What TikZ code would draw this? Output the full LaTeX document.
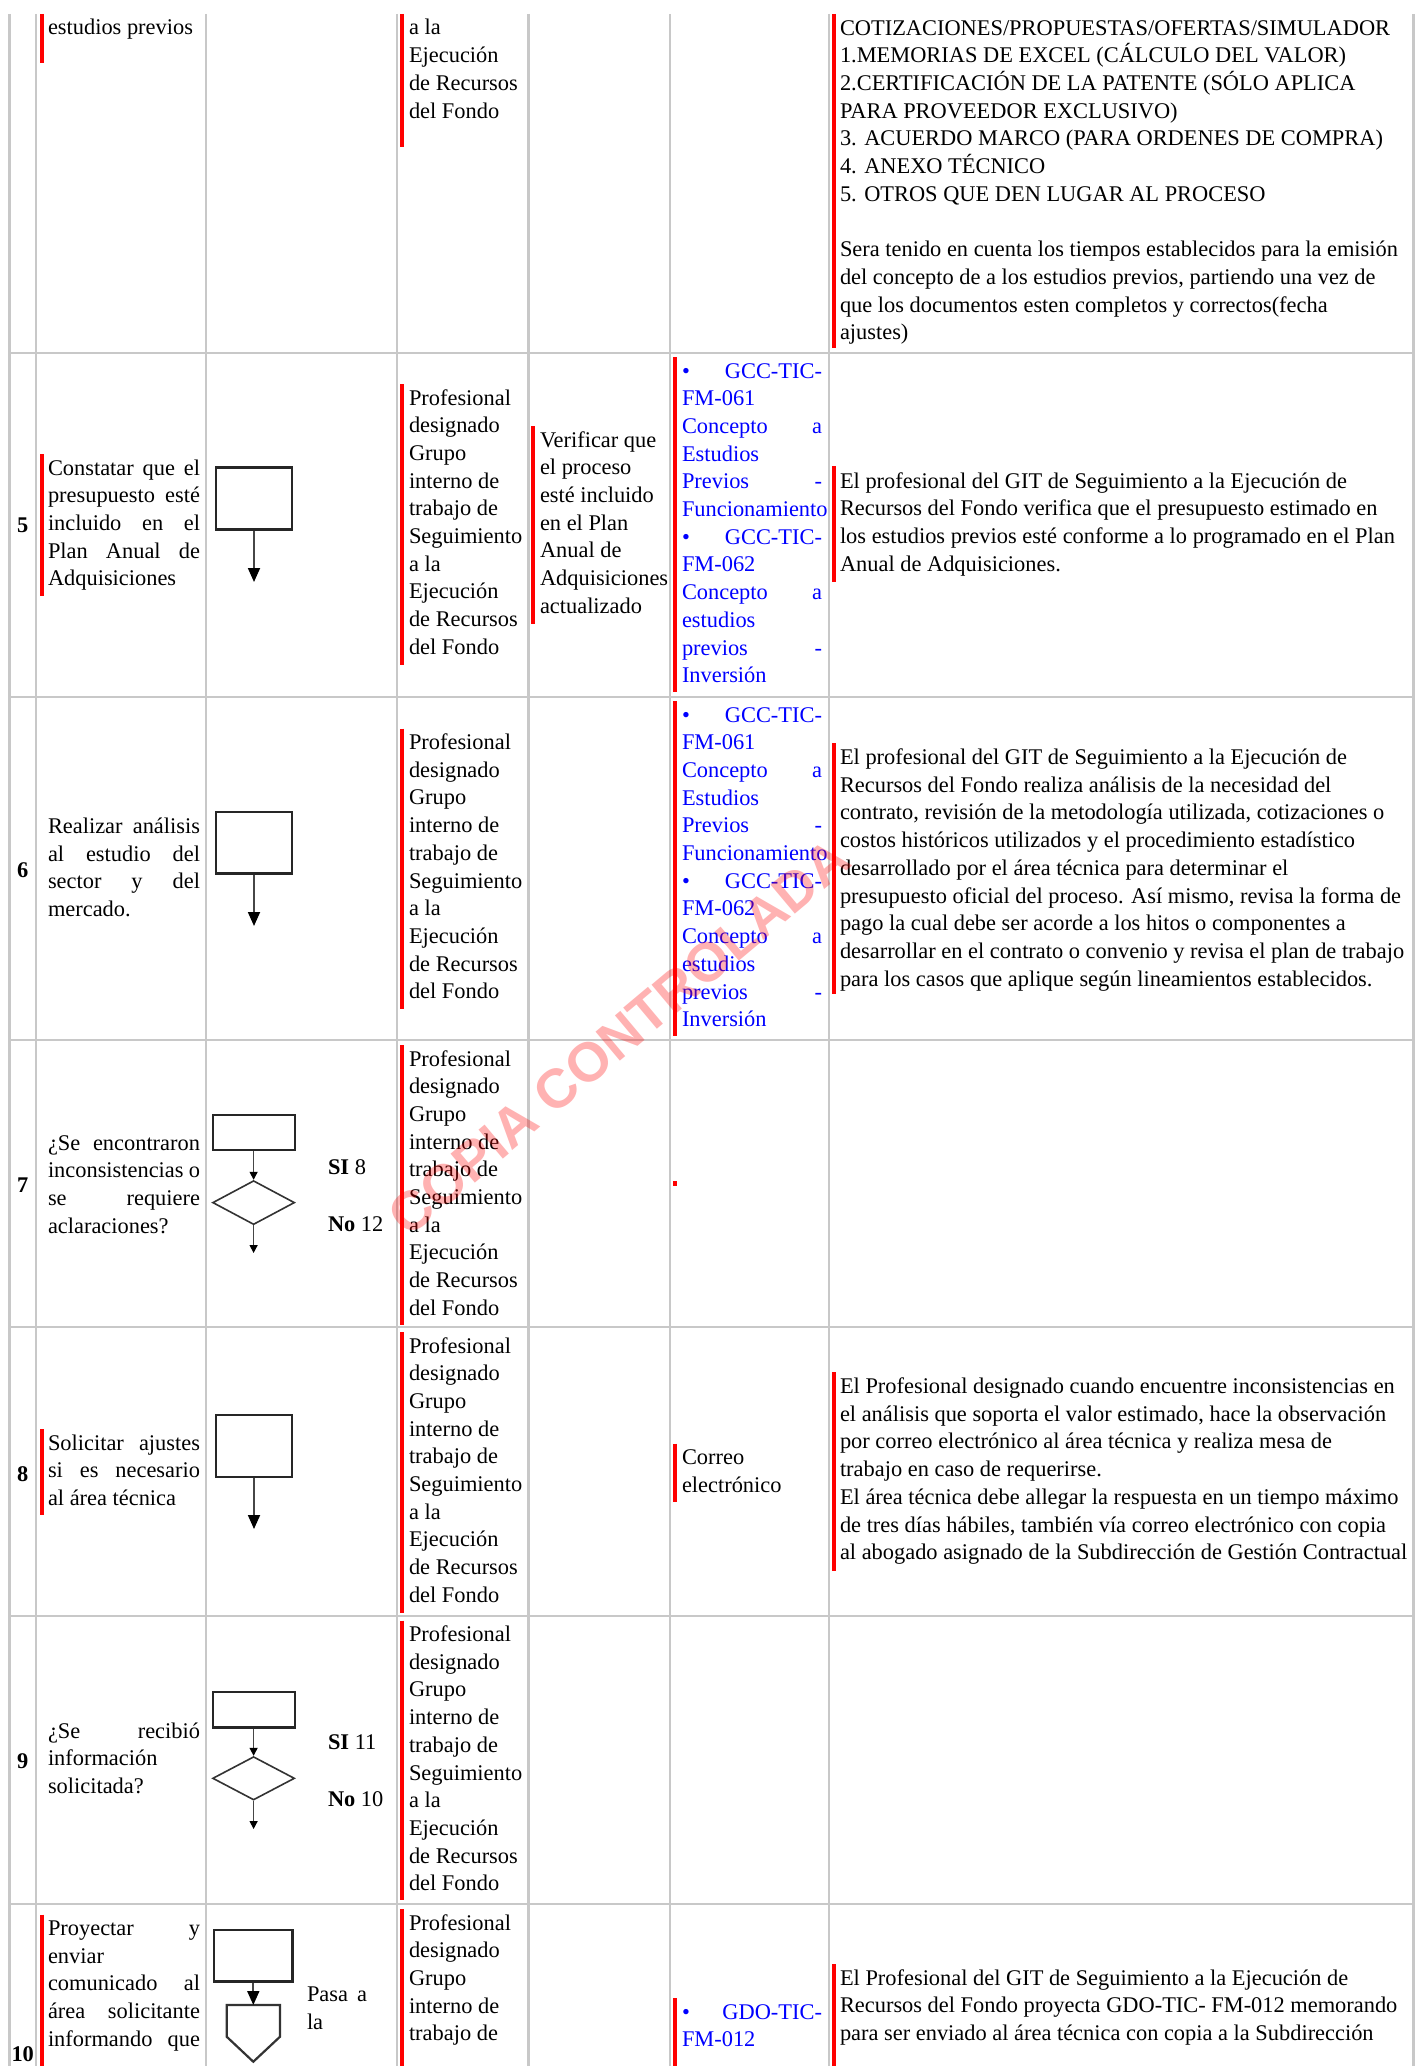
\documentclass[tikz,border=0pt]{standalone}
\usepackage{fontspec}
\setmainfont{Liberation Serif}
\newfontfamily\wmfont{Liberation Sans}
\usetikzlibrary{arrows.meta,shapes.geometric}
\definecolor{gridgray}{RGB}{200,200,200}
\definecolor{txtblue}{RGB}{0,0,255}
\definecolor{barred}{RGB}{255,0,0}
\definecolor{arrgray}{RGB}{70,70,70}
\newcommand{\J}[2]{\makebox[#1][s]{#2}}
\newcommand{\blk}[5]{\node[#1] (#2) at (#3,{#4-19.39}) {#5};}
\newcommand{\rbar}[3]{\draw[redbar] (#1,#2) -- (#1,#3);}
\newcommand{\profd}{\strut Profesional\\\strut designado\\\strut Grupo\\\strut interno de\\\strut trabajo de\\\strut Seguimiento\\\strut a la\\\strut Ejecución\\\strut de Recursos\\\strut del Fondo}
\newcommand{\gccrefs}{\strut\J{70pt}{• GCC-TIC-}\\\strut FM-061\\\strut\J{70pt}{Concepto a}\\\strut Estudios\\\strut\J{70pt}{Previos -}\\\strut Funcionamiento\\\strut\J{70pt}{• GCC-TIC-}\\\strut FM-062\\\strut\J{70pt}{Concepto a}\\\strut estudios\\\strut\J{70pt}{previos -}\\\strut Inversión}
\begin{document}
\begin{tikzpicture}[x=0.5pt,y=-0.5pt,
 gridline/.style={draw=gridgray,line width=1.25pt},
 redbar/.style={draw=barred,line width=2pt},
 tx/.style={inner sep=0pt,outer sep=0pt,anchor=north west,align=left,font=\fontsize{11.2}{13.85}\selectfont},
 btx/.style={tx,text=txtblue},
 stepnum/.style={inner sep=0pt,anchor=base,font=\fontsize{11.2}{13.85}\selectfont\bfseries},
 procbox/.style={draw=black!85,line width=1.4pt,inner sep=0pt,minimum width=38pt,minimum height=31pt},
 decbox/.style={draw=black!85,line width=1.1pt,inner sep=0pt,minimum width=41pt,minimum height=17.7pt},
 decis/.style={diamond,draw=black!80,line width=0.8pt,inner sep=0pt,minimum width=41pt,minimum height=22pt},
 bigarr/.style={draw=arrgray,line width=0.9pt,-{Triangle[length=7pt,width=6pt,color=black]}},
 smallarr/.style={draw=arrgray,line width=0.7pt,-{Triangle[length=4pt,width=4pt,color=black]}},
 pentshape/.style={draw=black!80,line width=1.1pt,line join=miter}
]
\useasboundingbox (0,0) rectangle (1424,2066);
\clip (0,0) rectangle (1424,2066);
\fill[white] (0,0) rectangle (1424,2066);

% grid
\foreach \gx in {9.5,36,206,397,528.5,670,829,1413.5}{\draw[gridline] (\gx,14) -- (\gx,2070);}
\foreach \gy in {353,697,1040,1327,1616,1904}{\draw[gridline] (9.5,\gy) -- (1413.5,\gy);}

% ---------- top (continued) row ----------
\blk{tx}{t0B}{48}{35}{\strut estudios previos}
\blk{tx}{t0D}{409}{35}{\strut a la\\\strut Ejecución\\\strut de Recursos\\\strut del Fondo}
\blk{tx}{t0G}{840}{35}{\strut COTIZACIONES/PROPUESTAS/OFERTAS/SIMULADOR\\\strut 1.MEMORIAS DE EXCEL (CÁLCULO DEL VALOR)\\\strut 2.CERTIFICACIÓN DE LA PATENTE (SÓLO APLICA\\\strut PARA PROVEEDOR EXCLUSIVO)\\\strut 3. ACUERDO MARCO (PARA ORDENES DE COMPRA)\\\strut 4. ANEXO TÉCNICO\\\strut 5. OTROS QUE DEN LUGAR AL PROCESO\\\strut\\\strut Sera tenido en cuenta los tiempos establecidos para la emisión\\\strut del concepto de a los estudios previos, partiendo una vez de\\\strut que los documentos esten completos y correctos(fecha\\\strut ajustes)}
\rbar{42}{14}{63}
\rbar{402}{14}{147}
\rbar{834}{14}{348}

% ---------- row 5 ----------
\node[stepnum] (n5) at (22.75,532) {5};
\blk{tx}{t5B}{48}{475}{\strut\J{76pt}{Constatar que el}\\\strut\J{76pt}{presupuesto esté}\\\strut\J{76pt}{incluido en el}\\\strut\J{76pt}{Plan Anual de}\\\strut Adquisiciones}
\node[procbox] (r5) at (254,498.5) {};
\coordinate (e5) at (254,582);
\draw[bigarr] (r5.south) -- (e5);
\blk{tx}{t5D}{409}{405}{\profd}
\blk{tx}{t5E}{540}{447}{\strut Verificar que\\\strut el proceso\\\strut esté incluido\\\strut en el Plan\\\strut Anual de\\\strut Adquisiciones\\\strut actualizado}
\blk{btx}{t5F}{682}{378}{\gccrefs}
\blk{tx}{t5G}{840}{488}{\strut El profesional del GIT de Seguimiento a la Ejecución de\\\strut Recursos del Fondo verifica que el presupuesto estimado en\\\strut los estudios previos esté conforme a lo programado en el Plan\\\strut Anual de Adquisiciones.}
\rbar{42}{454}{596}
\rbar{402}{384}{665}
\rbar{533}{426}{624}
\rbar{675}{357}{692}
\rbar{834}{466}{582}

% ---------- row 6 ----------
\node[stepnum] (n6) at (22.75,877) {6};
\blk{tx}{t6B}{48}{833.5}{\strut\J{76pt}{Realizar análisis}\\\strut\J{76pt}{al estudio del}\\\strut\J{76pt}{sector y del}\\\strut mercado.}
\node[procbox,minimum height=30.8pt] (r6) at (254,842.8) {};
\coordinate (e6) at (254,926);
\draw[bigarr] (r6.south) -- (e6);
\blk{tx}{t6D}{409}{749.5}{\profd}
\blk{btx}{t6F}{682}{722}{\gccrefs}
\blk{tx}{t6G}{840}{764.5}{\strut El profesional del GIT de Seguimiento a la Ejecución de\\\strut Recursos del Fondo realiza análisis de la necesidad del\\\strut contrato, revisión de la metodología utilizada, cotizaciones o\\\strut costos históricos utilizados y el procedimiento estadístico\\\strut desarrollado por el área técnica para determinar el\\\strut presupuesto oficial del proceso. Así mismo, revisa la forma de\\\strut pago la cual debe ser acorde a los hitos o componentes a\\\strut desarrollar en el contrato o convenio y revisa el plan de trabajo\\\strut para los casos que aplique según lineamientos establecidos.}
\rbar{402}{728.5}{1009}
\rbar{675}{701}{1035.5}
\rbar{834}{743}{994}

% ---------- row 7 ----------
\node[stepnum] (n7) at (22.75,1192) {7};
\blk{tx}{t7B}{48}{1150}{\strut\J{76pt}{¿Se encontraron}\\\strut\J{76pt}{inconsistencias o}\\\strut\J{76pt}{se requiere}\\\strut aclaraciones?}
\node[decbox] (r7) at (253.6,1132.3) {};
\node[decis] (d7) at (253.6,1202.6) {};
\coordinate (e7) at (253.6,1253);
\draw[smallarr] (r7.south) -- (d7.north);
\draw[smallarr] (d7.south) -- (e7);
\blk{tx}{s7}{328}{1174}{\strut\textbf{SI} 8}
\blk{tx}{o7}{328}{1231}{\strut\textbf{No} 12}
\blk{tx}{t7D}{409}{1066}{\profd}
\rbar{402}{1045}{1325}
\fill[barred] (673,1181) rectangle (677,1186);

% ---------- row 8 ----------
\node[stepnum] (n8) at (22.75,1481) {8};
\blk{tx}{t8B}{48}{1450}{\strut\J{76pt}{Solicitar ajustes}\\\strut\J{76pt}{si es necesario}\\\strut al área técnica}
\node[procbox] (r8) at (254,1446) {};
\coordinate (e8) at (254,1529);
\draw[bigarr] (r8.south) -- (e8);
\blk{tx}{t8D}{409}{1353}{\profd}
\blk{tx}{t8F}{682}{1464.5}{\strut Correo\\\strut electrónico}
\blk{tx}{t8G}{840}{1393.5}{\strut El Profesional designado cuando encuentre inconsistencias en\\\strut el análisis que soporta el valor estimado, hace la observación\\\strut por correo electrónico al área técnica y realiza mesa de\\\strut trabajo en caso de requerirse.\\\strut El área técnica debe allegar la respuesta en un tiempo máximo\\\strut de tres días hábiles, también vía correo electrónico con copia\\\strut al abogado asignado de la Subdirección de Gestión Contractual}
\rbar{42}{1429}{1515}
\rbar{402}{1332}{1612.5}
\rbar{675}{1443.5}{1501.6}
\rbar{834}{1372}{1570.6}

% ---------- row 9 ----------
\node[stepnum] (n9) at (22.75,1768) {9};
\blk{tx}{t9B}{48}{1738}{\strut\J{76pt}{¿Se recibió}\\\strut información\\\strut solicitada?}
\node[decbox,minimum height=17.75pt] (r9) at (253.6,1709.75) {};
\node[decis,minimum height=21.7pt] (d9) at (253.6,1778.3) {};
\coordinate (e9) at (253.6,1829);
\draw[smallarr] (r9.south) -- (d9.north);
\draw[smallarr] (d9.south) -- (e9);
\blk{tx}{s9}{328}{1749}{\strut\textbf{SI} 11}
\blk{tx}{o9}{328}{1806}{\strut\textbf{No} 10}
\blk{tx}{t9D}{409}{1641.5}{\profd}
\rbar{402}{1620.5}{1900}

% ---------- row 10 ----------
\node[stepnum] (n10) at (22.75,2061) {10};
\blk{tx}{t10B}{48}{1935.5}{\strut\J{76pt}{Proyectar y}\\\strut enviar\\\strut\J{76pt}{comunicado al}\\\strut\J{76pt}{área solicitante}\\\strut\J{76pt}{informando que}}
\node[procbox,minimum width=39.3pt,minimum height=25.8pt] (r10) at (253.3,1955.8) {};
\draw[pentshape] (226.7,2005) -- (280,2005) -- (280,2036.7) -- (253.3,2061.7) -- (226.7,2036.7) -- cycle;
\coordinate (p10) at (253.3,2005);
\draw[bigarr] (r10.south) -- (p10);
\blk{tx}{l10}{307}{2001.4}{\strut\J{30pt}{Pasa a}\\\strut la}
\blk{tx}{t10D}{409}{1930}{\strut Profesional\\\strut designado\\\strut Grupo\\\strut interno de\\\strut trabajo de}
\blk{btx}{t10F}{682}{2019}{\strut\J{70pt}{• GDO-TIC-}\\\strut FM-012}
\blk{tx}{t10G}{840}{1985}{\strut El Profesional del GIT de Seguimiento a la Ejecución de\\\strut Recursos del Fondo proyecta GDO-TIC- FM-012 memorando\\\strut para ser enviado al área técnica con copia a la Subdirección}
\rbar{42}{1914.5}{2070}
\rbar{402}{1909}{2070}
\rbar{675}{1998}{2070}
\rbar{834}{1964}{2070}

% watermark
\node[text=barred,opacity=0.3,font=\wmfont\bfseries\fontsize{27.5}{33}\selectfont,rotate=40,inner sep=0pt] (wm) at (619,1037) {COPIA CONTROLADA};
\end{tikzpicture}
\end{document}
